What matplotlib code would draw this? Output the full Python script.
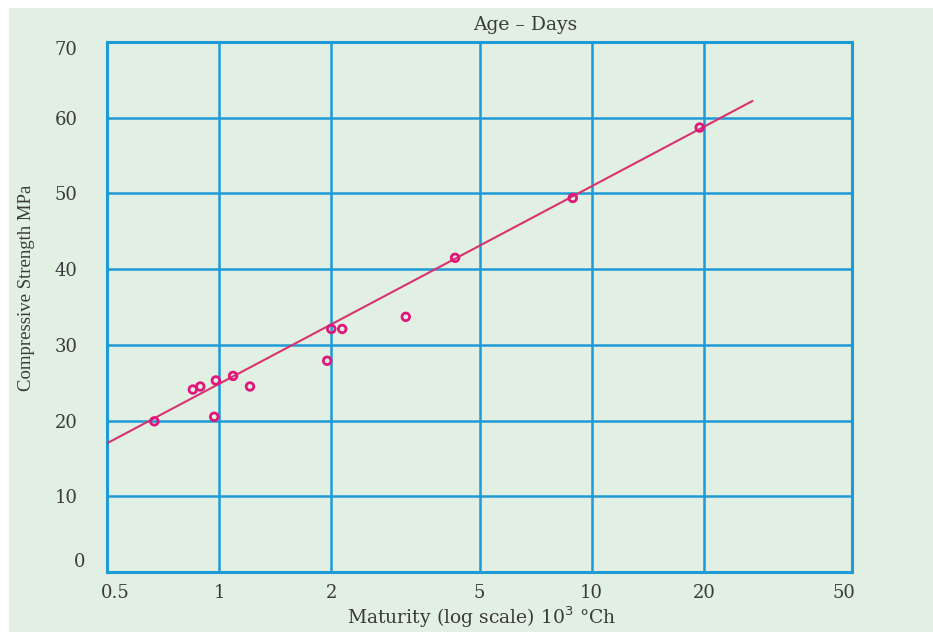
import numpy as np
import matplotlib.pyplot as plt
import matplotlib.transforms as mtrans
from matplotlib.patches import Rectangle
from matplotlib.ticker import FixedLocator, FixedFormatter, NullLocator

# maturity (10^3 degC h) and compressive strength (MPa)
maturity = [0.67, 0.85, 0.89, 0.98, 0.97, 1.09, 1.21, 1.95, 2.0, 2.14, 3.17, 4.3, 8.9, 19.5]
strength = [19.9, 24.1, 24.5, 25.3, 20.5, 25.9, 24.5, 27.9, 32.1, 32.1, 33.7, 41.5, 49.4, 58.7]

# regression line end points
fit_x = [0.5, 27.0]
fit_y = [17.0, 62.2]

x_ticks = [0.5, 1, 2, 5, 10, 20, 50]
x_labels = ["0.5", "1", "2", "5", "10", "20", "50"]
y_ticks = [0, 10, 20, 30, 40, 50, 60, 70]

bg = "#e2efe3"
grid_blue = "#1e9ad6"
pink = "#e0167c"
text_col = "#3a3a3a"

# the source picture is stretched sideways, a wide serif copes with that best
wide = ["DejaVu Serif"]
narrow = ["Liberation Serif", "DejaVu Serif"]
plt.rcParams["font.family"] = wide

fig = plt.figure(figsize=(9.33, 6.32), dpi=100, facecolor="white")
# green panel behind everything, white strip along top and left
fig.patches.append(Rectangle((9 / 933, 0), 1, 1 - 8 / 632, transform=fig.transFigure,
                             facecolor=bg, edgecolor="none", zorder=-10))

ax = fig.add_axes([107 / 933, 1 - 572 / 632, 745 / 933, 530 / 632])
ax.set_facecolor(bg)
ax.set_xscale("log")
ax.set_xlim(0.5, 50)
ax.set_ylim(0, 70)

ax.xaxis.set_major_locator(FixedLocator(x_ticks))
ax.xaxis.set_major_formatter(FixedFormatter(x_labels))
ax.xaxis.set_minor_locator(NullLocator())
ax.set_yticks(y_ticks)

ax.grid(True, color=grid_blue, linewidth=1.8)
ax.set_axisbelow(True)
for s in ax.spines.values():
    s.set_color(grid_blue)
    s.set_linewidth(2.2)

ax.tick_params(axis="both", length=0, labelsize=13, colors=text_col)
ax.tick_params(axis="x", pad=9)
ax.tick_params(axis="y", pad=21)

# nudge the end labels the way the hand-drawn original has them
def nudge(lbl, dx, dy):
    off = mtrans.ScaledTranslation(dx / 100, dy / 100, fig.dpi_scale_trans)
    lbl.set_transform(lbl.get_transform() + off)

ytk = ax.yaxis.get_major_ticks()
nudge(ytk[0].label1, 8, 12)
nudge(ytk[-1].label1, 0, -6)
xtk = ax.xaxis.get_major_ticks()
nudge(xtk[0].label1, 8, 0)
nudge(xtk[-1].label1, -8, 0)

ax.plot(fit_x, fit_y, color="#d8336e", linewidth=1.5, zorder=3)
ax.scatter(maturity, strength, s=30, facecolors="none", edgecolors=pink,
           linewidths=2, zorder=4)

fig.text(525 / 933, 1 - 25 / 632, "Age \u2013 Days", ha="center", va="center",
         fontsize=13.5, color=text_col)
fig.text(482 / 933, 1 - 617 / 632, "Maturity (log scale) 10$^3$ \u00b0Ch", ha="center",
         va="center", fontsize=13.5, color=text_col)
fig.text(27 / 933, 1 - 288 / 632, "Compressive Strength MPa", ha="center", va="center",
         rotation=90, fontsize=13.5, color=text_col, family=narrow)

fig.savefig("out.png", dpi=100, facecolor=fig.get_facecolor())
